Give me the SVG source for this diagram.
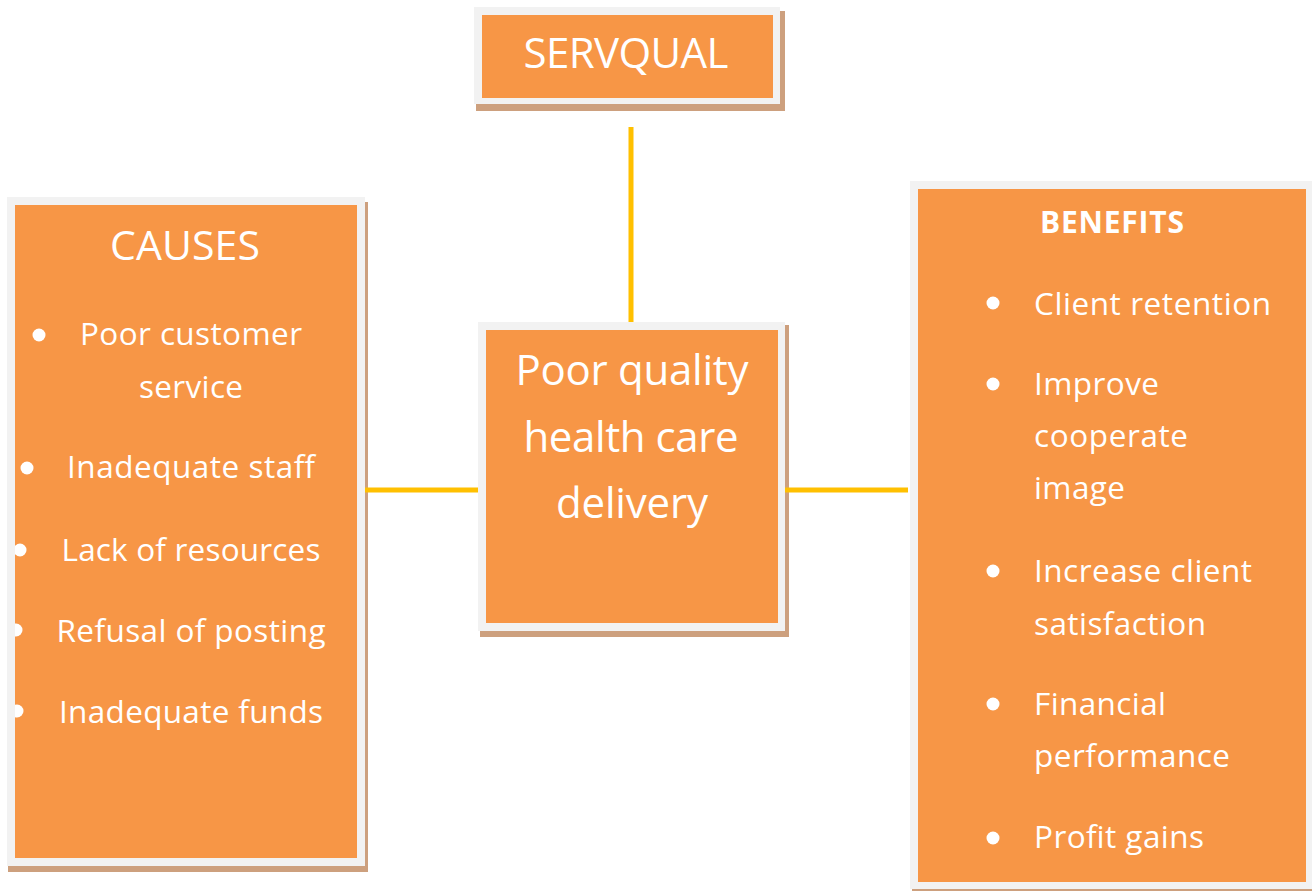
<svg xmlns="http://www.w3.org/2000/svg" width="1312" height="891" viewBox="0 0 1312 891">
  <style>
    .shadow { fill: #CDA07E; }
    .frame { fill: #F2F2F2; }
    .fill { fill: #F79646; }
    .t { font-family: "Open Sans", "Noto Sans", sans-serif; fill: #FFFFFF; }
    .big { font-size: 42px; }
    .item { font-size: 31.5px; }
    .head { font-size: 30px; font-weight: 700; }
    .link { stroke: #FFC000; stroke-width: 5; fill: none; }
  </style>
  <defs>
    <clipPath id="causesClip">
      <rect x="15" y="205" width="342" height="653"/>
    </clipPath>
  </defs>

  <rect width="1312" height="891" fill="#FFFFFF"/>

  <!-- SERVQUAL -->
  <g id="servqual">
    <rect class="shadow" x="476" y="11" width="309" height="100"/>
    <rect class="frame" x="474" y="7" width="306" height="97"/>
    <rect class="fill" x="482" y="15" width="291" height="83"/>
    <text class="t big" x="626" y="68" text-anchor="middle" textLength="205" lengthAdjust="spacing">SERVQUAL</text>
  </g>

  <!-- Causes -->
  <g id="causes">
    <rect class="shadow" x="8" y="202" width="360" height="670"/>
    <rect class="frame" x="7" y="197" width="358" height="669"/>
    <rect class="fill" x="15" y="205" width="342" height="653"/>
    <text class="t" x="185" y="260" font-size="41" text-anchor="middle" textLength="150" lengthAdjust="spacing">CAUSES</text>
    <g clip-path="url(#causesClip)" fill="#FFFFFF">
      <circle cx="39" cy="335" r="6.5"/>
      <circle cx="27" cy="468" r="6.5"/>
      <circle cx="20" cy="550" r="6.5"/>
      <circle cx="16" cy="630" r="6.5"/>
      <circle cx="17" cy="711" r="6.5"/>
    </g>
    <text class="t item" x="191" y="345" text-anchor="middle" textLength="222" lengthAdjust="spacing">Poor customer</text>
    <text class="t item" x="191" y="398" text-anchor="middle" textLength="104" lengthAdjust="spacing">service</text>
    <text class="t item" x="191" y="478" text-anchor="middle" textLength="248" lengthAdjust="spacing">Inadequate staff</text>
    <text class="t item" x="191" y="561" text-anchor="middle" textLength="259" lengthAdjust="spacing">Lack of resources</text>
    <text class="t item" x="191" y="642" text-anchor="middle" textLength="269" lengthAdjust="spacing">Refusal of posting</text>
    <text class="t item" x="191" y="723" text-anchor="middle" textLength="264" lengthAdjust="spacing">Inadequate funds</text>
  </g>

  <!-- Central problem -->
  <g id="problem">
    <rect class="shadow" x="480" y="325" width="309" height="312"/>
    <rect class="frame" x="478" y="322" width="307" height="309"/>
    <rect class="fill" x="486" y="330" width="292" height="293"/>
    <text class="t big" x="632" y="385" text-anchor="middle" textLength="233" lengthAdjust="spacing">Poor quality</text>
    <text class="t big" x="631" y="452" text-anchor="middle" textLength="215" lengthAdjust="spacing">health care</text>
    <text class="t big" x="632" y="518" text-anchor="middle" textLength="152" lengthAdjust="spacing">delivery</text>
  </g>

  <!-- Benefits -->
  <g id="benefits">
    <rect class="shadow" x="912" y="186" width="406" height="709"/>
    <rect class="frame" x="910" y="181" width="404" height="708"/>
    <rect class="fill" x="918" y="189" width="388" height="693"/>
    <text class="t head" x="1112" y="233" text-anchor="middle" textLength="144" lengthAdjust="spacing">BENEFITS</text>
    <g fill="#FFFFFF">
      <circle cx="993" cy="303" r="6.5"/>
      <circle cx="993" cy="384" r="6.5"/>
      <circle cx="993" cy="571" r="6.5"/>
      <circle cx="993" cy="704" r="6.5"/>
      <circle cx="993" cy="838" r="6.5"/>
    </g>
    <text class="t item" x="1034" y="315" textLength="237" lengthAdjust="spacing">Client retention</text>
    <text class="t item" x="1034" y="395" textLength="125" lengthAdjust="spacing">Improve</text>
    <text class="t item" x="1034" y="447" textLength="154" lengthAdjust="spacing">cooperate</text>
    <text class="t item" x="1034" y="499" textLength="91" lengthAdjust="spacing">image</text>
    <text class="t item" x="1034" y="582" textLength="218" lengthAdjust="spacing">Increase client</text>
    <text class="t item" x="1034" y="635" textLength="172" lengthAdjust="spacing">satisfaction</text>
    <text class="t item" x="1034" y="715" textLength="132" lengthAdjust="spacing">Financial</text>
    <text class="t item" x="1034" y="767" textLength="196" lengthAdjust="spacing">performance</text>
    <text class="t item" x="1034" y="848" textLength="170" lengthAdjust="spacing">Profit gains</text>
  </g>

  <!-- Connectors -->
  <g id="connectors" class="link">
    <line x1="631" y1="127" x2="631" y2="322"/>
    <line x1="365" y1="490" x2="478" y2="490"/>
    <line x1="785" y1="490" x2="908" y2="490"/>
  </g>
</svg>
